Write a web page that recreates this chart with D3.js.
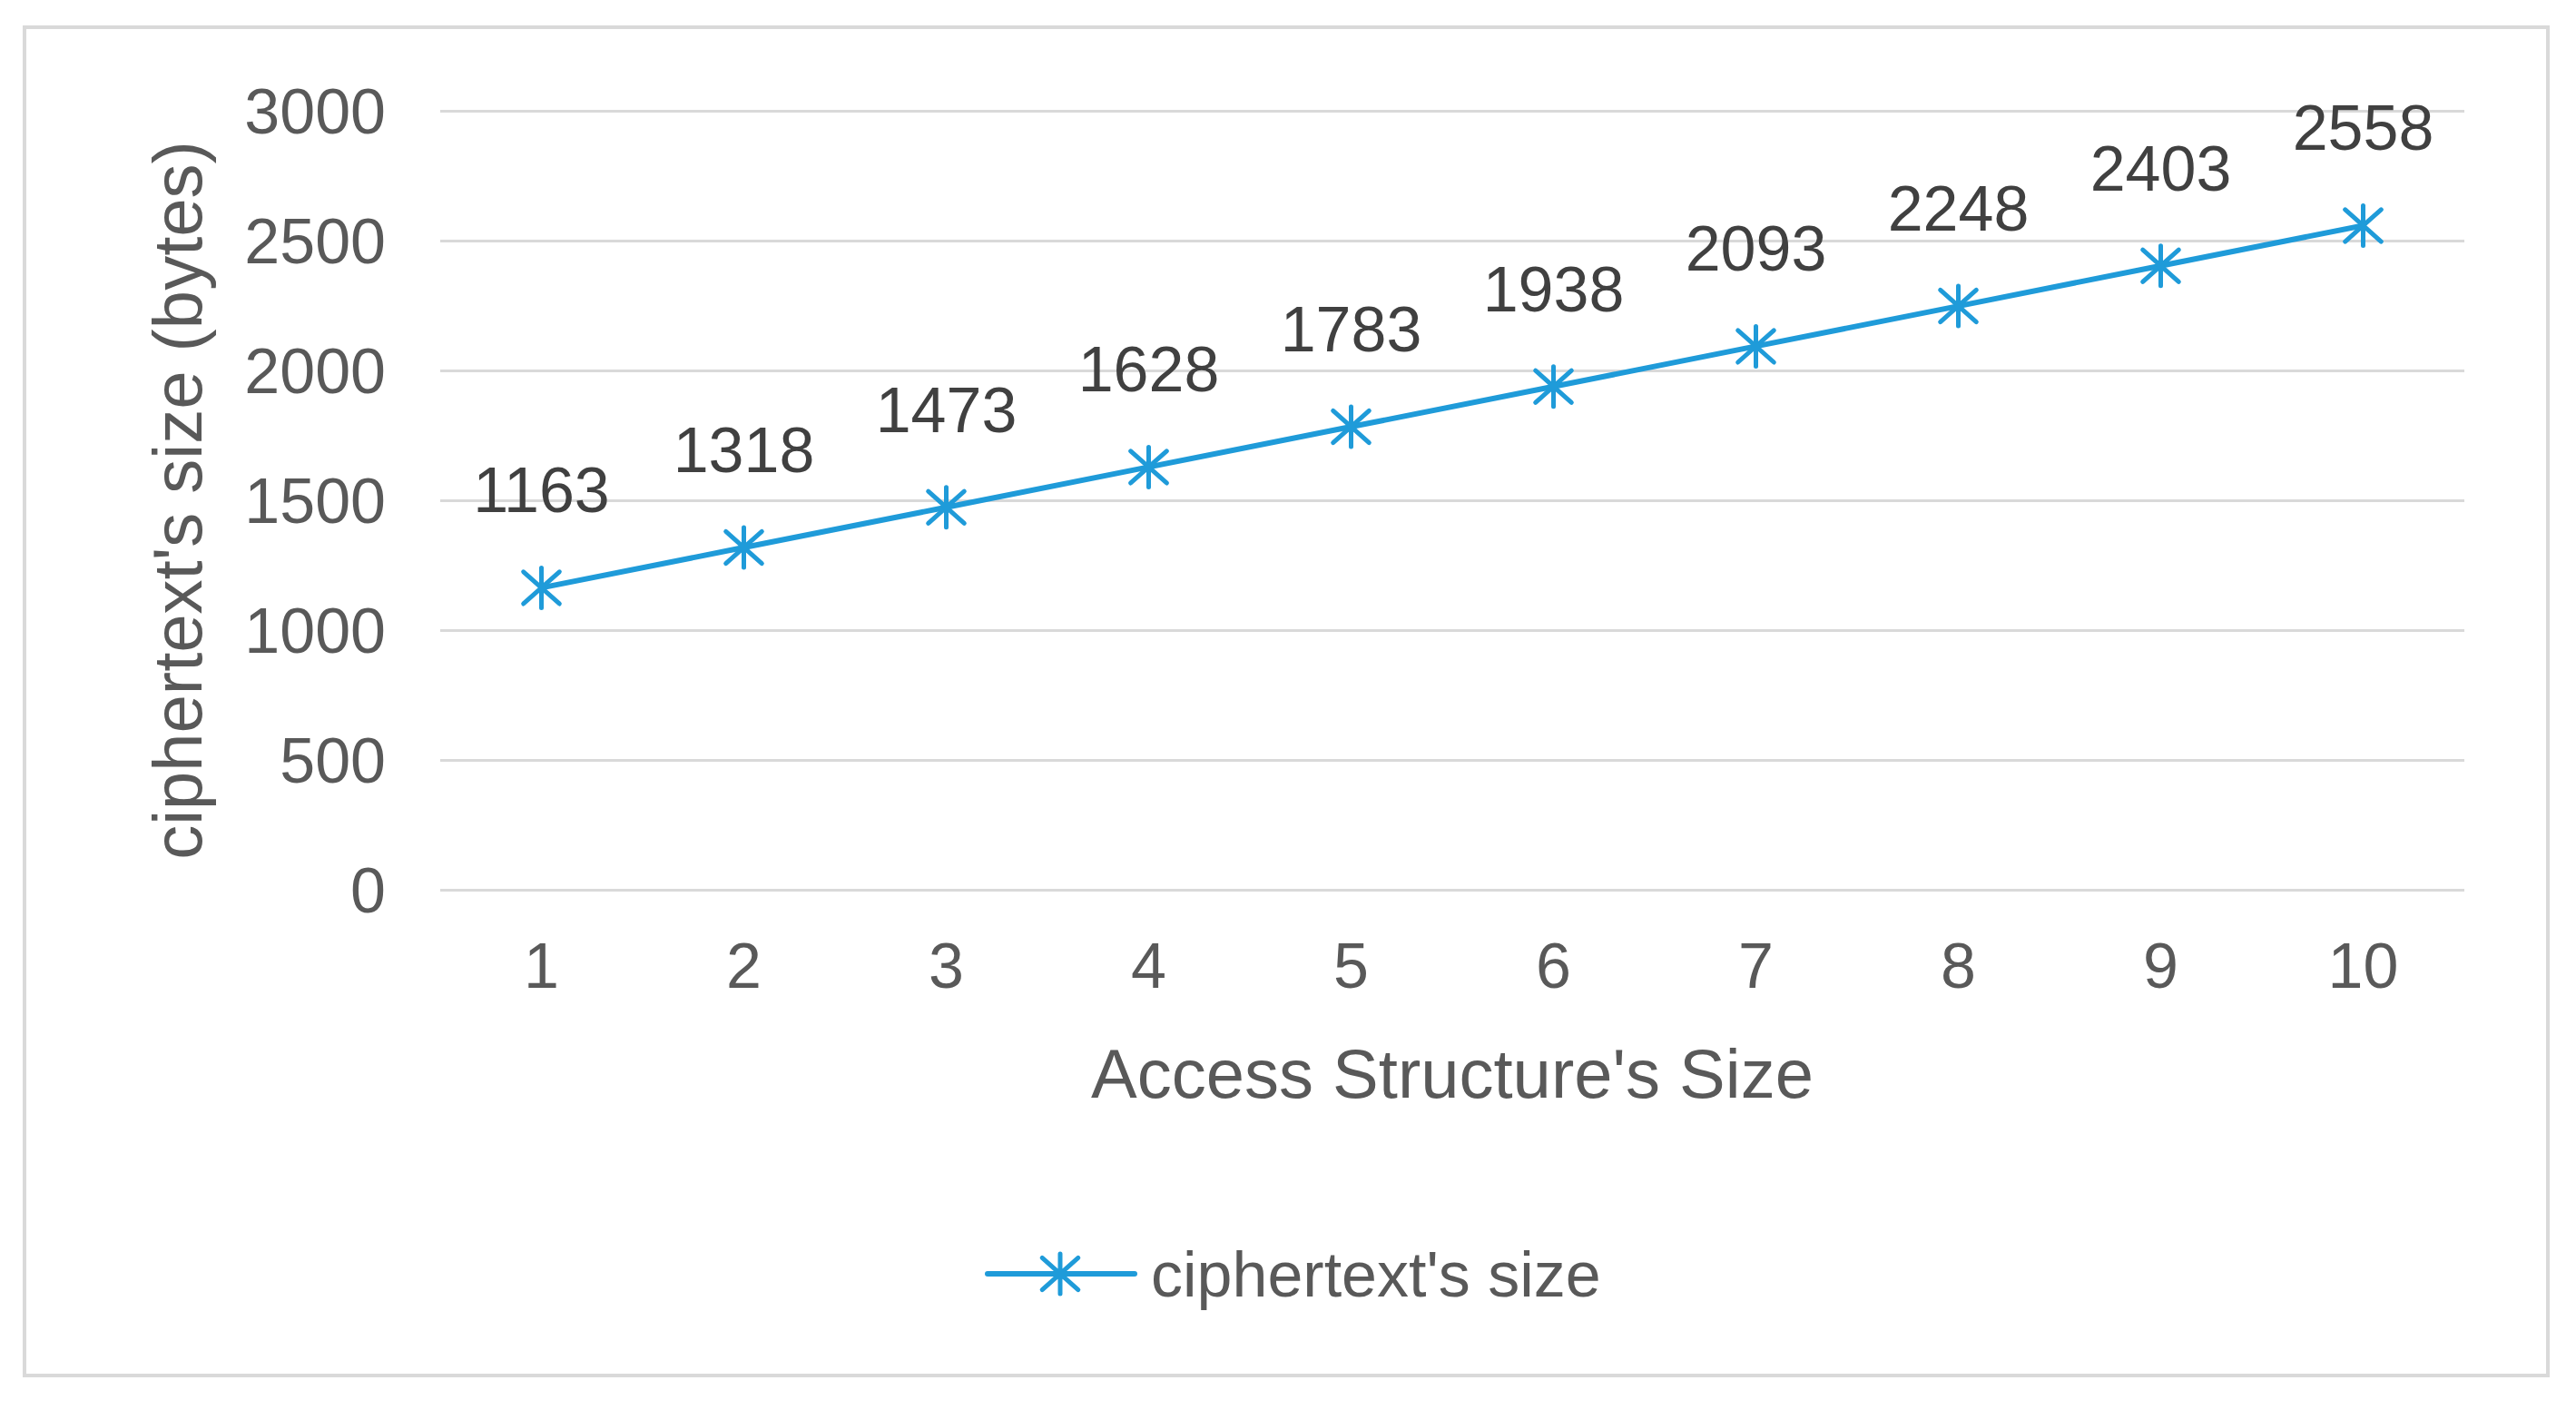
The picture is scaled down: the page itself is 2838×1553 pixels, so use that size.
<!DOCTYPE html>
<html><head><meta charset="utf-8">
<script src="https://cdn.jsdelivr.net/npm/d3@7"></script>
<style>html,body{margin:0;padding:0;background:#fff;}</style>
</head><body>
<svg id="c" width="2838" height="1553"></svg>
<script>
const categories = ["1","2","3","4","5","6","7","8","9","10"];
const values = [1163,1318,1473,1628,1783,1938,2093,2248,2403,2558];
const yTicks = [0,500,1000,1500,2000,2500,3000];
const seriesName = "ciphertext's size";
const xTitle = "Access Structure's Size";
const yTitle = "ciphertext's size (bytes)";

const font = "'Liberation Sans', Arial, sans-serif";
const blue = "#1f9bd9";
const svg = d3.select("#c");

svg.append("rect").attr("x",27).attr("y",30).attr("width",2780).attr("height",1485)
  .attr("fill","#fff").attr("stroke","#d9d9d9").attr("stroke-width",4);

const L=485,R=2715,T=122,B=980;
const x = d3.scaleBand().domain(categories).range([L,R]);
const cx = d => x(d)+x.bandwidth()/2;
const y = d3.scaleLinear().domain([0,3000]).range([B,T]);

// grid
const yAxis = d3.axisLeft(y).tickValues(yTicks).tickFormat(d3.format("d")).tickSize(-(R-L)).tickPadding(60);
const gy = svg.append("g").attr("transform",`translate(${L},0)`).call(yAxis);
gy.select(".domain").remove();
gy.selectAll(".tick line").attr("stroke","#d9d9d9").attr("stroke-width",3);
gy.selectAll(".tick text").attr("fill","#595959").attr("font-family",font).attr("font-size",70)
  .attr("dy","0.35em");

const xAxis = d3.axisBottom(x).tickSize(0).tickPadding(58);
const gx = svg.append("g").attr("transform",`translate(0,${B})`).call(xAxis);
gx.select(".domain").remove();
gx.selectAll(".tick text").attr("fill","#595959").attr("font-family",font).attr("font-size",70);

// titles
svg.append("text").attr("x",(L+R)/2).attr("y",1209).attr("text-anchor","middle")
  .attr("font-family",font).attr("font-size",76).attr("fill","#595959").text(xTitle);
svg.append("text").attr("transform",`translate(222,${(T+B)/2}) rotate(-90)`).attr("text-anchor","middle")
  .attr("font-family",font).attr("font-size",76).attr("fill","#595959").text(yTitle);

// line
const data = categories.map((c,i)=>({c,v:values[i]}));
svg.append("path").datum(data)
  .attr("d",d3.line().x(d=>cx(d.c)).y(d=>y(d.v)))
  .attr("fill","none").attr("stroke",blue).attr("stroke-width",6).attr("stroke-linejoin","round");

function star(g, px, py, s){
  const h=s/2;
  g.append("path").attr("d",`M${px},${py-h}L${px},${py+h}M${px-h*0.9},${py-h*0.8}L${px+h*0.9},${py+h*0.8}M${px-h*0.9},${py+h*0.8}L${px+h*0.9},${py-h*0.8}`)
    .attr("stroke",blue).attr("stroke-width",5).attr("fill","none").attr("stroke-linecap","round");
}
const mg = svg.append("g");
data.forEach(d=>star(mg,cx(d.c),y(d.v),44));

// labels
svg.append("g").selectAll("text").data(data).join("text")
  .attr("x",d=>cx(d.c)).attr("y",d=>y(d.v)-83).attr("text-anchor","middle")
  .attr("font-family",font).attr("font-size",70).attr("fill","#404040").text(d=>d.v);

// legend
svg.append("line").attr("x1",1088).attr("x2",1250).attr("y1",1403).attr("y2",1403)
  .attr("stroke",blue).attr("stroke-width",6).attr("stroke-linecap","round");
star(svg,1168,1403,44);
svg.append("text").attr("x",1268).attr("y",1428).attr("font-family",font).attr("font-size",70)
  .attr("fill","#595959").text(seriesName);
</script>
</body></html>
